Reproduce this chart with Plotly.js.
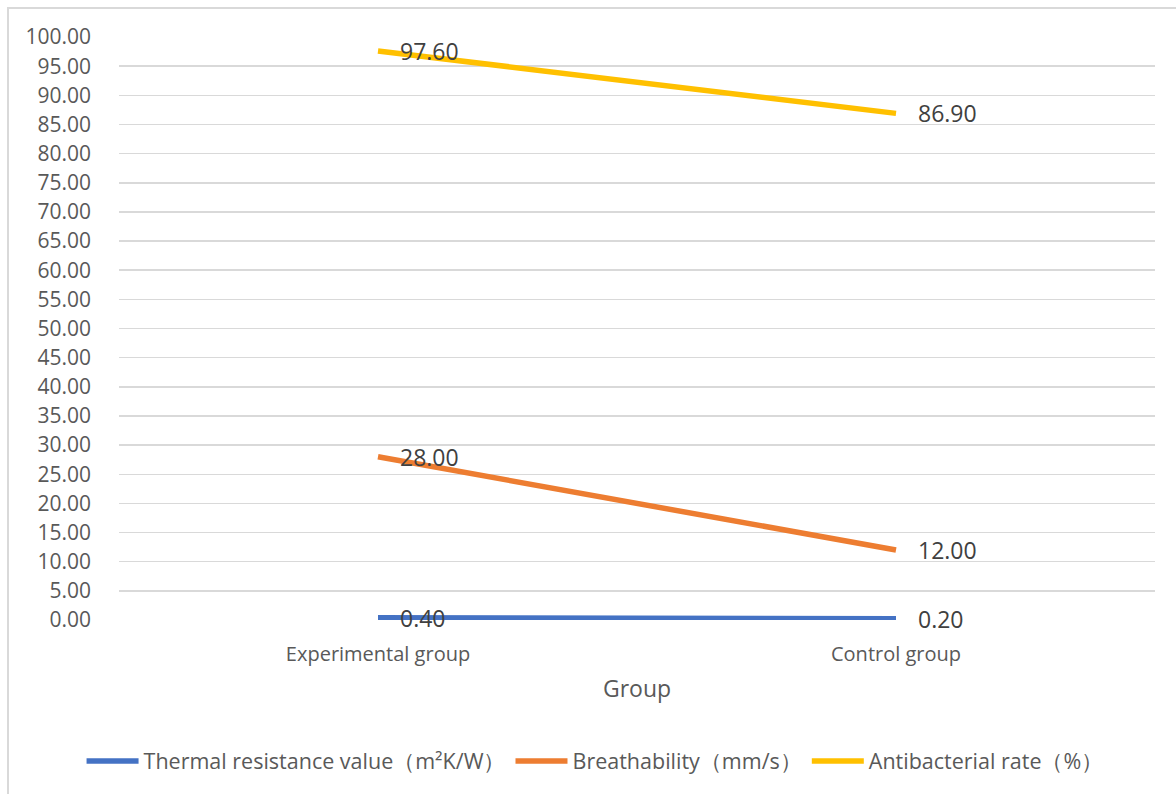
<!DOCTYPE html>
<html>
<head>
<meta charset="utf-8">
<script src="https://cdn.plot.ly/plotly-3.0.1.min.js"></script>
<style>
  html, body { margin: 0; padding: 0; background: #fff; }
  #frame { position: absolute; left: 7px; top: 7px; width: 1180px; height: 800px;
           border-left: 2px solid #d9d9d9; border-top: 2px solid #d9d9d9; box-sizing: border-box; pointer-events: none; }
  #chart { width: 1176px; height: 794px; }
</style>
</head>
<body>
<div id="chart"></div>
<div id="frame"></div>
<script>
const categories = ["Experimental group", "Control group"];
const seriesNames = ["Thermal resistance value（m²K/W）", "Breathability（mm/s）", "Antibacterial rate（%）"];
const thermal = [0.40, 0.20];
const breathability = [28.00, 12.00];
const antibacterial = [97.60, 86.90];
const colors = ["#4472C4", "#ED7D31", "#FFC000"];
const yTicks = [0,5,10,15,20,25,30,35,40,45,50,55,60,65,70,75,80,85,90,95,100];

const allSeries = [thermal, breathability, antibacterial];
const traces = allSeries.map((vals, i) => ({
  type: "scatter",
  mode: "lines",
  x: categories,
  y: vals,
  name: seriesNames[i],
  line: { color: colors[i], width: 5.5 },
  hoverinfo: "skip"
}));

const annotations = [];
allSeries.forEach(vals => {
  vals.forEach((v, j) => {
    annotations.push({
      x: categories[j], y: v, xref: "x", yref: "y",
      text: v.toFixed(2), showarrow: false,
      xanchor: "left", yanchor: "middle", xshift: 20,
      font: { family: "Open Sans, Noto Sans, sans-serif", size: 23, color: "#404040" }
    });
  });
});

const layout = {
  width: 1176, height: 794,
  margin: { l: 119, r: 21, t: 37, b: 174, autoexpand: false },
  paper_bgcolor: "#fff", plot_bgcolor: "#fff",
  font: { family: "Open Sans, Noto Sans, sans-serif", color: "#595959" },
  showlegend: true,
  legend: {
    orientation: "h", x: 0.506, xref: "container", xanchor: "center",
    y: 0.0416, yref: "container", yanchor: "middle",
    font: { size: 21.5, color: "#595959" }, itemwidth: 52, traceorder: "normal"
  },
  xaxis: {
    type: "category", range: [-0.5, 1.5], automargin: false,
    showgrid: false, showline: false, zeroline: false, ticks: "",
    ticklabelstandoff: 20,
    tickfont: { size: 20, color: "#595959" },
    title: { text: "Group", font: { size: 23, color: "#595959" }, standoff: 14 }
  },
  yaxis: {
    range: [0, 100], tickvals: yTicks, ticktext: yTicks.map(v => v.toFixed(2)), automargin: false,
    showgrid: true, gridcolor: "#d9d9d9", gridwidth: 1.5,
    zeroline: false, showline: false, ticks: "", ticklen: 0,
    ticklabelstandoff: 27,
    tickfont: { size: 21, color: "#595959" }
  },
  annotations: annotations
};

Plotly.newPlot("chart", traces, layout, { displayModeBar: false, staticPlot: true });
</script>
</body>
</html>
